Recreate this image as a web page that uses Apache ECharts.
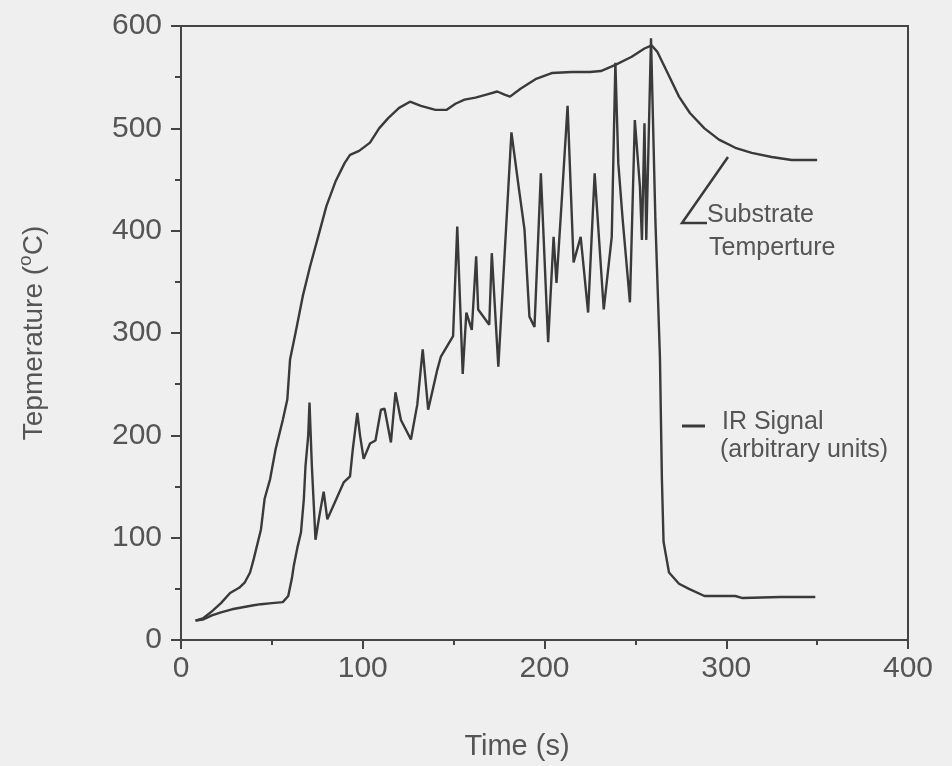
<!DOCTYPE html>
<html>
<head>
<meta charset="utf-8">
<script src="https://cdn.jsdelivr.net/npm/echarts@6/dist/echarts.min.js"></script>
<style>
html,body{margin:0;padding:0;background:#efefef;}
#chart{width:952px;height:766px;}
</style>
</head>
<body>
<div id="chart"></div>
<script>
// Substrate temperature (time s, temperature °C)
const subTime = [8,12,17,22,27,32,35,38,40,44,46,49,52,56,58.5,60,63,67,71,75,80,85,90,93,98,104,109,114,120,126,132,140,146,151,156,162,168,174,178,181,187,195,204,215,225,231,239,248,255,259,262,268,274,280,288,296,305,314,325,336,350];
const subTemp = [19,21,28,36,46,51,56,66,79,108,138,157,186,215,235,274,300,336,365,391,424,448,466,474,478,486,500,510,520,526,522,518,518,524,528,530,533,536,533,531,539,548,554,555,555,556,562,570,578,581,575,553,531,515,500,489,481,476,472,469,469];
// IR signal (arbitrary units)
const irTime = [8,12,17,22,28,34,40,44,50,56,59,61,62,64,66,67.6,68.5,70,70.7,72,74,76,78.5,80.5,84,89.5,93,94.5,97,98.5,100.5,104,107,110,112,115.5,118,121,126.5,130,133,136,141,143,149.7,152,155,157,160,162.4,163.5,169.6,171,174.6,181.8,186,189,191.7,194.5,198,202,205,206.6,209.4,212.7,216,219.9,224,227.6,232.6,237,239,240.6,243,247,249.7,252.5,253.6,255,256,258.6,261,263.5,264.6,265.5,268.5,274,279.5,288,305,309,330,349];
const irVal = [19,20,24,27,30,32,34,35,36,37,43,60,72,90,105,138,170,200,232,170,98,120,145,118,132,154,160,186,222,200,177,192,195,225,226,193,242,215,196,230,284,225,264,277,297,404,260,320,303,375,323,308,378,267,496,440,401,316,306,456,291,394,349,427,522,369,394,320,456,323,394,564,466,411,330,508,443,391,505,391,588,411,277,157,96,66,55,50,43,43,41,42,42];

const xTicks = [0,100,200,300,400];
const yTicks = [0,100,200,300,400,500,600];

const zip = (a,b) => a.map((v,i)=>[v,b[i]]);
const chart = echarts.init(document.getElementById('chart'));
const ink = '#3a3a3a';
const txt = '#555';
const fam = 'Liberation Sans, Arial, sans-serif';

chart.setOption({
  backgroundColor: '#efefef',
  animation: false,
  grid: {left:181, right:44, top:26, bottom:125, show:true, borderColor:'#444', borderWidth:2, backgroundColor:'transparent'},
  xAxis: {
    type:'value', min:xTicks[0], max:xTicks[xTicks.length-1], interval:100,
    name:'Time (s)', nameLocation:'middle', nameGap:92,
    nameTextStyle:{fontSize:29, color:txt, fontFamily:fam, padding:[0,55,0,0]},
    axisLine:{show:true, lineStyle:{color:'#444', width:2}},
    axisTick:{show:true, length:9, lineStyle:{color:'#444', width:2}},
    minorTick:{show:true, splitNumber:2, length:5, lineStyle:{color:'#444', width:2}},
    splitLine:{show:false},
    axisLabel:{fontSize:30, color:txt, fontFamily:fam, margin:14}
  },
  yAxis: {
    type:'value', min:yTicks[0], max:yTicks[yTicks.length-1], interval:100,
    name:'{a|Tepmerature (}{s|o}{a|C)}', nameLocation:'middle', nameGap:133, nameRotate:90,
    nameTextStyle:{
      rich:{
        a:{fontSize:28, color:txt, fontFamily:fam, lineHeight:32, verticalAlign:'bottom'},
        s:{fontSize:19, color:txt, fontFamily:fam, lineHeight:32, verticalAlign:'top'}
      }
    },
    axisLine:{show:true, lineStyle:{color:'#444', width:2}},
    axisTick:{show:true, length:10, lineStyle:{color:'#444', width:2}},
    minorTick:{show:true, splitNumber:2, length:6, lineStyle:{color:'#444', width:2}},
    splitLine:{show:false},
    axisLabel:{fontSize:30, color:txt, fontFamily:fam, margin:19}
  },
  series: [
    {name:'Substrate Temperture', type:'line', data:zip(subTime, subTemp), showSymbol:false, smooth:false,
     lineStyle:{color:ink, width:2.4}},
    {name:'IR Signal', type:'line', data:zip(irTime, irVal), showSymbol:false, smooth:false,
     lineStyle:{color:ink, width:2.4}}
  ],
  graphic: [
    {type:'polyline', shape:{points:[[728,157],[682,223],[707,223]]}, style:{stroke:ink, lineWidth:2.5, fill:null}},
    {type:'text', left:707, top:203, style:{text:'Substrate', fontSize:25, fill:txt, fontFamily:fam}},
    {type:'text', left:709, top:236, style:{text:'Temperture', fontSize:25, fill:txt, fontFamily:fam}},
    {type:'line', shape:{x1:682, y1:426, x2:705, y2:426}, style:{stroke:ink, lineWidth:3}},
    {type:'text', left:722, top:410, style:{text:'IR Signal', fontSize:25, fill:txt, fontFamily:fam}},
    {type:'text', left:720, top:438, style:{text:'(arbitrary units)', fontSize:25, fill:txt, fontFamily:fam}}
  ]
});
</script>
</body>
</html>
